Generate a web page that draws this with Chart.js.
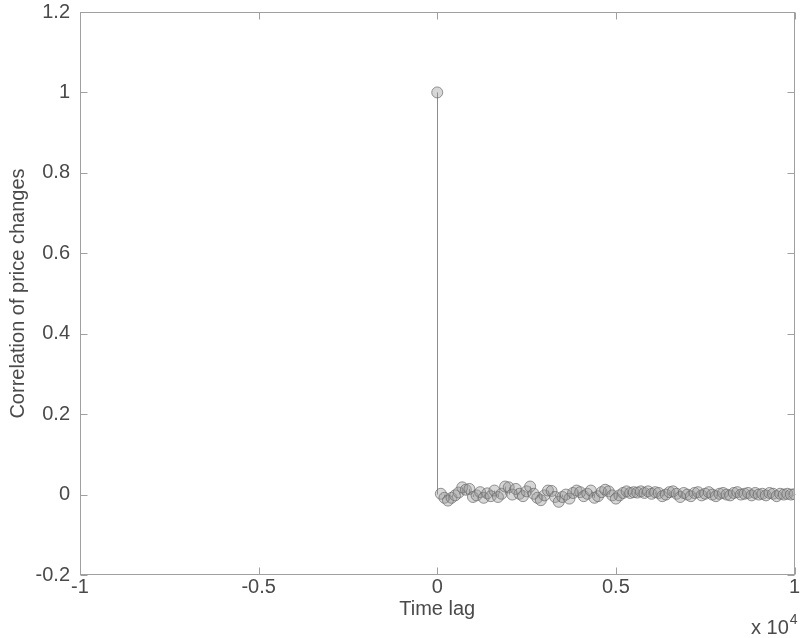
<!DOCTYPE html>
<html>
<head>
<meta charset="utf-8">
<script src="https://cdn.jsdelivr.net/npm/chart.js@4/dist/chart.umd.min.js"></script>
<style>
  html, body { margin: 0; padding: 0; background: #fff; }
  #wrap { width: 801px; height: 638px; }
</style>
</head>
<body>
<div id="wrap"><canvas id="corr"></canvas></div>
<script>
// time lags (x) and correlation values (y)
const lags = [
  0, 100, 200, 300, 400, 500, 600, 700, 800, 900, 1000,
  1100, 1200, 1300, 1400, 1500, 1600, 1700, 1800, 1900, 2000,
  2100, 2200, 2300, 2400, 2500, 2600, 2700, 2800, 2900, 3000,
  3100, 3200, 3300, 3400, 3500, 3600, 3700, 3800, 3900, 4000,
  4100, 4200, 4300, 4400, 4500, 4600, 4700, 4800, 4900, 5000,
  5100, 5200, 5300, 5400, 5500, 5600, 5700, 5800, 5900, 6000,
  6100, 6200, 6300, 6400, 6500, 6600, 6700, 6800, 6900, 7000,
  7100, 7200, 7300, 7400, 7500, 7600, 7700, 7800, 7900, 8000,
  8100, 8200, 8300, 8400, 8500, 8600, 8700, 8800, 8900, 9000,
  9100, 9200, 9300, 9400, 9500, 9600, 9700, 9800, 9900, 10000
];
const corr = [
  1,
  0.002, -0.008, -0.015, -0.008, -0.002, 0.005, 0.018, 0.012, 0.014, -0.006,
  -0.002, 0.006, -0.008, 0.003, -0.004, 0.01, -0.006, 0.002, 0.02, 0.018,
  0.0, 0.014, 0.002, -0.004, 0.008, 0.02, 0.002, -0.008, -0.014, -0.002,
  0.01, 0.009, -0.006, -0.018, -0.006, 0.0, -0.01, 0.004, 0.01, 0.006,
  -0.004, 0.002, 0.01, -0.008, -0.004, 0.006, 0.012, 0.008, -0.002, -0.01,
  -0.002, 0.004, 0.008, 0.004, 0.006, 0.005, 0.008, 0.004, 0.008, 0.002,
  0.006, 0.004, -0.004, 0.0, 0.006, 0.008, 0.002, -0.006, 0.004, 0.0,
  -0.004, 0.004, 0.006, -0.002, 0.002, 0.006, 0.0, -0.004, 0.002, 0.004,
  0.0, -0.002, 0.004, 0.006, 0.0, 0.002, 0.004, -0.002, 0.004, 0.0,
  0.002, -0.002, 0.004, 0.002, -0.004, 0.002, 0.0, 0.002, 0.0, 0.001
];
const xTicks = [-10000, -5000, 0, 5000, 10000];
const yTicks = [-0.2, 0, 0.2, 0.4, 0.6, 0.8, 1, 1.2];

const textColor = "#4a4a4a";
const axisColor = "#a0a0a0";
const fontFamily = "'Liberation Sans', Arial, sans-serif";

const points = lags.map((x, i) => ({ x: x, y: corr[i] }));

// stems from each point down/up to zero, then the axes box with inward ticks
const stemsAndBox = {
  id: "stemsAndBox",
  beforeDatasetsDraw(chart) {
    const ctx = chart.ctx;
    const xs = chart.scales.x, ys = chart.scales.y;
    const y0 = ys.getPixelForValue(0);
    ctx.save();
    ctx.strokeStyle = "#8c8c8c";
    ctx.lineWidth = 1;
    points.forEach(p => {
      const px = Math.round(xs.getPixelForValue(p.x)) + 0.5;
      ctx.beginPath();
      ctx.moveTo(px, y0);
      ctx.lineTo(px, ys.getPixelForValue(p.y));
      ctx.stroke();
    });
    ctx.restore();
  },
  afterDraw(chart) {
    const ctx = chart.ctx;
    const a = chart.chartArea;
    const xs = chart.scales.x, ys = chart.scales.y;
    const L = Math.round(a.left) + 0.5, R = Math.round(a.right) - 0.5;
    const T = Math.round(a.top) + 0.5, B = Math.round(a.bottom) - 0.5;
    const tl = 7;
    ctx.save();
    ctx.strokeStyle = axisColor;
    ctx.lineWidth = 1;
    ctx.strokeRect(L, T, R - L, B - T);
    ctx.beginPath();
    xTicks.forEach(v => {
      const px = Math.round(xs.getPixelForValue(v)) + 0.5;
      ctx.moveTo(px, B); ctx.lineTo(px, B - tl);
      ctx.moveTo(px, T); ctx.lineTo(px, T + tl);
    });
    yTicks.forEach(v => {
      const py = Math.round(ys.getPixelForValue(v)) + 0.5;
      ctx.moveTo(L, py); ctx.lineTo(L + tl, py);
      ctx.moveTo(R, py); ctx.lineTo(R - tl, py);
    });
    ctx.stroke();

    // exponent label
    ctx.fillStyle = textColor;
    ctx.textBaseline = "alphabetic";
    ctx.textAlign = "left";
    ctx.font = "20px " + fontFamily;
    const base = "x 10";
    const bx = 751, by = 634;
    ctx.fillText(base, bx, by);
    const w = ctx.measureText(base).width;
    ctx.font = "14px " + fontFamily;
    ctx.fillText("4", bx + w + 1, by - 10);
    ctx.restore();
  }
};

const ctx = document.getElementById("corr").getContext("2d");
const corrChart = new Chart(ctx, {
  type: "scatter",
  data: {
    datasets: [
      {
        label: "Correlation",
        data: points,
        pointRadius: 5.5,
        pointHoverRadius: 5.5,
        pointBackgroundColor: "rgba(150, 150, 150, 0.38)",
        pointBorderColor: "rgba(105, 105, 105, 0.7)",
        pointBorderWidth: 1,
        showLine: false,
      },
    ],
  },
  options: {
    responsive: true,
    maintainAspectRatio: false,
    animation: false,
    layout: { padding: { top: 12, right: 5, bottom: 0, left: 0 } },
    plugins: {
      legend: { display: false },
      tooltip: { enabled: false },
    },
    scales: {
      x: {
        type: "linear",
        min: -10000,
        max: 10000,
        afterBuildTicks: (scale) => { scale.ticks = xTicks.map(v => ({ value: v })); },
        afterFit: (scale) => { scale.height = 63; },
        ticks: {
          color: textColor,
          font: { family: fontFamily, size: 20 },
          padding: 0,
          maxRotation: 0,
          callback: (v) => String(v / 10000),
        },
        grid: { display: false, drawTicks: false },
        border: { display: false },
        title: {
          display: true,
          text: "Time lag",
          color: textColor,
          font: { family: fontFamily, size: 20 },
          padding: { top: 0, bottom: 17 },
        },
      },
      y: {
        min: -0.2,
        max: 1.2,
        afterBuildTicks: (scale) => { scale.ticks = yTicks.map(v => ({ value: v })); },
        afterFit: (scale) => {
          scale.width = 80;
          scale.paddingTop = 0;
          scale.paddingBottom = 0;
        },
        ticks: {
          color: textColor,
          font: { family: fontFamily, size: 20 },
          padding: 10,
          callback: (v) => String(Math.round(v * 10) / 10),
        },
        grid: { display: false, drawTicks: false },
        border: { display: false },
        title: {
          display: true,
          text: "Correlation of price changes",
          color: textColor,
          font: { family: fontFamily, size: 20 },
          padding: { top: 6, bottom: 0 },
        },
      },
    },
  },
  plugins: [stemsAndBox],
});
</script>
</body>
</html>
